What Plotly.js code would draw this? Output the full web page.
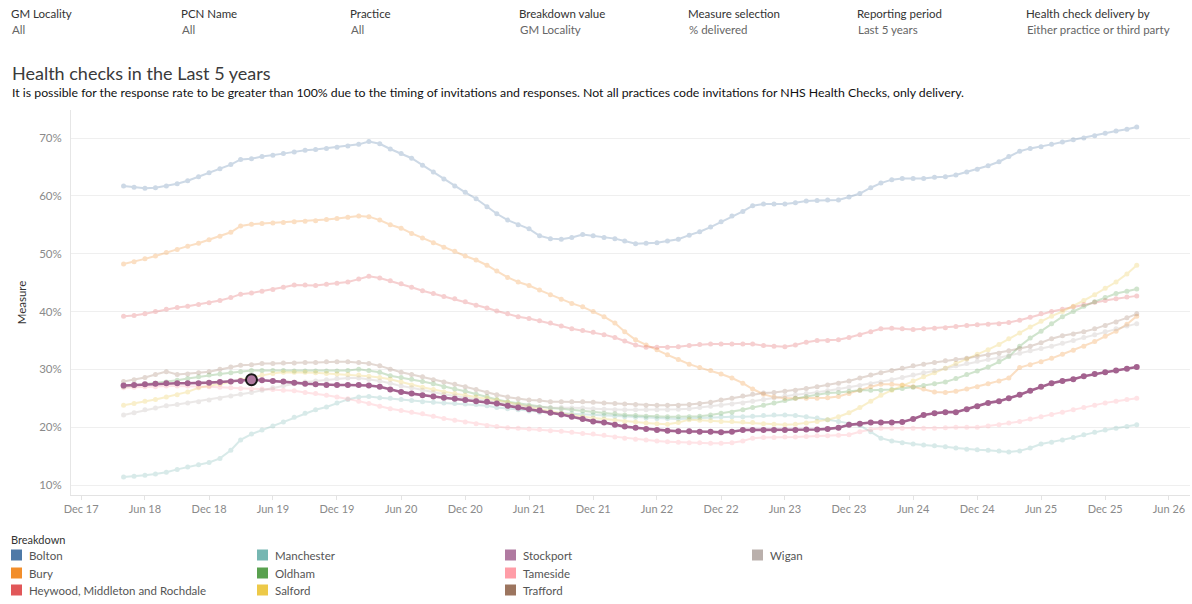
<!DOCTYPE html>
<html><head><meta charset="utf-8">
<script src="https://cdn.plot.ly/plotly-3.0.1.min.js"></script>
<style>html,body{margin:0;padding:0;background:#fff;}#chart{width:1192px;height:604px;}</style>
</head><body><div id="chart"></div>
<script>
// ---------------- DATA ----------------
const firstMonth = [2018, 4];   // Apr 2018, monthly points
const nPoints = 96;             // to Mar 2026
const localities = ['Bolton','Bury','Heywood, Middleton and Rochdale','Manchester','Oldham','Salford','Stockport','Tameside','Trafford','Wigan'];
const colours = ['#4e79a7','#f28e2b','#e15759','#76b7b2','#59a14f','#edc948','#b07aa1','#ff9da7','#9c755f','#bab0ac'];
const bolton = [61.7,61.5,61.3,61.4,61.7,62.1,62.6,63.3,64.0,64.7, 65.4,66.3,66.4,66.8,67.0,67.3,67.6,67.9,68.0,68.2, 68.4,68.6,68.9,69.4,69.0,68.1,67.3,66.5,65.3,64.1, 62.9,61.7,60.6,59.5,58.1,56.9,55.8,55.0,54.3,53.1, 52.6,52.5,52.8,53.3,53.1,52.8,52.6,52.2,51.7,51.8, 51.9,52.2,52.5,53.2,53.8,54.6,55.5,56.5,57.3,58.3, 58.6,58.6,58.6,58.8,59.1,59.2,59.3,59.3,59.8,60.4, 61.4,62.2,62.8,63.0,63.0,63.0,63.2,63.3,63.6,64.1, 64.6,65.2,65.9,66.8,67.7,68.2,68.5,68.9,69.3,69.7, 70.0,70.4,70.8,71.2,71.5,71.9];
const bury = [48.2,48.6,49.1,49.6,50.2,50.7,51.3,51.8,52.4,53.0, 53.7,54.8,55.1,55.2,55.3,55.4,55.5,55.6,55.7,55.9, 56.1,56.3,56.5,56.4,55.8,55.0,54.4,53.5,52.7,51.9, 51.1,50.4,49.6,48.9,48.0,47.0,45.9,45.1,44.5,43.7, 42.9,42.1,41.4,40.8,40.0,39.1,38.0,36.5,35.1,34.2, 33.4,32.5,31.7,30.9,30.3,29.8,29.2,28.5,27.6,26.6, 25.7,25.2,25.0,25.0,25.0,25.0,25.1,25.3,25.8,26.4, 27.0,27.4,27.4,27.3,27.0,26.6,26.1,26.0,26.2,26.6, 27.0,27.5,28.0,28.5,30.3,30.8,31.3,31.9,32.6,33.3, 34.0,34.8,35.7,36.6,37.8,39.2];
const hmr = [39.2,39.3,39.6,40.0,40.4,40.7,40.9,41.2,41.5,41.9, 42.4,43.0,43.2,43.5,43.8,44.2,44.6,44.6,44.5,44.7, 44.9,45.1,45.6,46.1,45.8,45.3,44.8,44.2,43.6,43.1, 42.6,42.2,41.7,41.1,40.6,40.1,39.6,39.1,38.8,38.4, 38.0,37.5,37.0,36.7,36.4,36.0,35.5,34.9,34.2,33.8, 33.8,33.8,33.9,34.1,34.3,34.4,34.4,34.4,34.4,34.4, 34.1,34.0,33.9,34.2,34.7,35.0,35.0,35.1,35.5,36.0, 36.5,37.0,37.1,37.0,36.9,37.0,37.1,37.2,37.4,37.6, 37.7,37.8,37.9,38.1,38.5,39.0,39.6,40.0,40.4,40.8, 41.2,41.6,41.9,42.2,42.5,42.7];
const manchester = [11.4,11.5,11.7,11.9,12.2,12.7,13.1,13.5,13.9,14.6, 16.0,17.8,18.8,19.5,20.2,20.9,21.7,22.4,23.0,23.5, 24.2,24.8,25.2,25.3,25.1,25.0,24.8,24.6,24.4,24.3, 24.2,24.1,24.0,23.9,23.7,23.4,23.2,23.0,22.8,22.6, 22.5,22.4,22.3,22.2,22.1,22.0,21.9,21.8,21.7,21.6, 21.5,21.5,21.4,21.5,21.6,21.7,21.8,21.8,21.8,21.9, 22.0,22.1,22.1,22.0,21.8,21.6,21.3,21.0,20.6,20.3, 19.2,18.1,17.6,17.3,17.1,16.9,16.8,16.6,16.4,16.2, 16.1,16.0,15.9,15.7,15.9,16.4,17.1,17.4,17.8,18.2, 18.7,19.1,19.5,19.8,20.1,20.4];
const oldham = [27.0,27.2,27.4,27.6,27.8,28.1,28.4,28.7,29.0,29.2, 29.4,29.6,29.8,29.8,29.8,29.8,29.7,29.7,29.7,29.7, 29.7,29.8,30.0,29.8,29.5,28.9,28.6,28.3,27.9,27.5, 27.0,26.6,26.2,25.7,25.3,24.8,24.4,24.1,23.8,23.5, 23.3,23.2,23.0,22.8,22.6,22.4,22.3,22.1,22.0,21.9, 21.9,21.8,21.8,21.8,21.9,22.1,22.4,22.6,23.0,23.4, 23.8,24.2,24.6,25.0,25.3,25.6,25.9,26.0,26.2,26.4, 26.4,26.4,26.5,26.7,26.9,27.2,27.5,27.8,28.4,29.1, 29.7,30.4,31.3,32.2,34.0,35.4,36.6,37.9,39.1,40.0, 40.9,41.7,42.4,43.1,43.5,43.9];
const salford = [23.8,24.1,24.5,24.8,25.2,25.6,26.1,26.8,27.1,27.4, 27.8,28.2,28.6,29.0,29.3,29.5,29.5,29.5,29.4,29.3, 29.2,29.1,29.0,28.8,28.6,28.3,27.8,27.3,26.9,26.5, 26.1,25.8,25.5,25.2,25.0,24.7,24.3,23.9,23.5,23.1, 22.7,22.4,22.1,21.8,21.6,21.4,21.2,21.0,20.9,20.7, 20.6,20.5,20.8,21.3,21.2,21.1,21.0,21.0,20.9,20.8, 20.6,20.5,20.4,20.5,20.7,21.0,21.3,21.8,22.5,23.4, 24.5,25.5,26.4,27.2,28.0,28.7,29.4,30.2,31.0,31.8, 32.6,33.4,34.3,35.3,36.3,37.3,38.3,39.2,40.0,40.9, 41.9,42.9,44.0,45.1,46.5,48.0];
const stockport = [27.2,27.3,27.4,27.5,27.6,27.6,27.6,27.6,27.7,27.8, 27.9,28.0,28.2,28.1,28.0,27.9,27.7,27.5,27.4,27.3, 27.3,27.3,27.3,27.2,27.0,26.5,26.1,25.8,25.5,25.3, 25.1,24.9,24.7,24.5,24.4,24.1,23.7,23.4,23.1,22.9, 22.5,22.2,21.8,21.4,21.0,20.8,20.4,20.1,19.9,19.7, 19.5,19.4,19.3,19.3,19.2,19.2,19.1,19.2,19.5,19.5, 19.5,19.5,19.5,19.5,19.6,19.6,19.7,19.9,20.4,20.6, 20.8,20.8,20.8,20.9,21.4,22.1,22.4,22.6,22.6,23.1, 23.6,24.2,24.5,25.0,25.6,26.3,27.0,27.6,28.0,28.3, 28.8,29.2,29.5,29.8,30.1,30.4];
const tameside = [26.8,26.9,27.0,27.0,27.1,27.1,27.1,27.0,27.0,26.9, 26.8,26.7,26.6,26.6,26.5,26.4,26.3,26.0,25.8,25.5, 25.2,24.9,24.5,24.1,23.6,23.2,22.9,22.6,22.3,21.9, 21.5,21.2,20.9,20.6,20.3,20.1,19.9,19.8,19.7,19.6, 19.4,19.3,19.1,18.9,18.8,18.6,18.3,18.1,17.9,17.8, 17.6,17.5,17.4,17.3,17.3,17.2,17.2,17.3,17.6,18.1, 18.2,18.2,18.3,18.3,18.4,18.5,18.5,18.6,18.7,19.2, 19.6,19.8,19.8,19.8,19.8,19.8,19.8,19.9,20.0,20.0, 20.0,20.2,20.4,20.7,21.0,21.4,21.8,22.2,22.6,23.0, 23.4,23.8,24.2,24.5,24.8,25.0];
const trafford = [27.9,28.2,28.6,29.1,29.6,29.1,29.2,29.4,29.6,30.0, 30.4,30.7,30.8,31.0,31.0,31.1,31.1,31.2,31.2,31.3, 31.3,31.3,31.2,31.0,30.6,30.0,29.5,29.1,28.7,28.2, 27.8,27.4,27.0,26.5,26.0,25.6,25.2,24.9,24.7,24.6, 24.4,24.4,24.4,24.4,24.3,24.2,24.1,24.0,23.9,23.8, 23.8,23.8,23.8,23.9,24.1,24.3,24.7,25.0,25.4,25.7, 25.9,26.0,26.2,26.4,26.7,27.0,27.3,27.6,28.0,28.5, 29.0,29.4,29.8,30.2,30.6,30.9,31.2,31.5,31.7,31.9, 32.2,32.5,32.8,33.2,33.6,34.0,34.6,35.3,35.8,36.1, 36.5,37.0,37.6,38.2,38.9,39.6];
const wigan = [22.1,22.5,23.0,23.3,23.7,23.9,24.2,24.4,24.7,25.0, 25.4,25.7,26.0,26.4,26.8,27.2,27.5,27.8,28.0,28.2, 28.4,28.5,28.5,28.3,28.0,27.6,27.1,26.8,26.4,26.0, 25.7,25.4,25.1,24.8,24.5,24.2,24.0,23.8,23.6,23.5, 23.4,23.4,23.3,23.3,23.2,23.1,23.0,23.0,23.0,23.0, 23.0,23.0,23.1,23.2,23.4,23.6,23.8,24.0,24.2,24.5, 24.8,25.1,25.4,25.6,25.8,26.0,26.3,26.6,26.9,27.2, 27.5,27.8,28.2,28.6,29.0,29.4,29.8,30.2,30.6,31.0, 31.4,31.7,32.0,32.4,32.8,33.2,33.6,34.0,34.5,35.0, 35.5,36.0,36.5,37.0,37.5,37.9];
const seriesValues = [bolton,bury,hmr,manchester,oldham,salford,stockport,tameside,trafford,wigan];
const highlighted = 'Stockport';
const highlightMonthIndex = 12;   // Apr 2019 point picked out
const yTickVals = [10,20,30,40,50,60,70];
const yTickText = ['10%','20%','30%','40%','50%','60%','70%'];
const filterLabels = ['GM Locality','PCN Name','Practice','Breakdown value','Measure selection','Reporting period','Health check delivery by'];
const filterValues = ['All','All','All','GM Locality','% delivered','Last 5 years','Either practice or third party'];
const titleText = 'Health checks in the Last 5 years';
const subtitleText = 'It is possible for the response rate to be greater than 100% due to the timing of invitations and responses. Not all practices code invitations for NHS Health Checks, only delivery.';

// --------------- BUILD ----------------
const dates = [];
for (let i = 0; i < nPoints; i++) {
  const m0 = firstMonth[1] - 1 + i;
  const y = firstMonth[0] + Math.floor(m0 / 12);
  const m = (m0 % 12) + 1;
  dates.push(y + '-' + String(m).padStart(2,'0') + '-01');
}
const FONT = 'Lato, "Noto Sans", sans-serif';
const W = 1192, H = 604, L = 71, R = 2, T = 110, B = 109;
const pw = W - L - R, ph = H - T - B;
const px = x => (x - L) / pw;
const py = y => (H - B - y) / ph;

const traces = [];
localities.forEach((name, k) => {
  if (name === highlighted) return;
  traces.push({
    type: 'scatter', mode: 'lines+markers', name: name, x: dates, y: seriesValues[k],
    line: {color: colours[k], width: 2}, marker: {color: colours[k], size: 5},
    opacity: 0.28, showlegend: false, hoverinfo: 'skip'
  });
});
const hk = localities.indexOf(highlighted);
traces.push({
  type: 'scatter', mode: 'lines+markers', name: highlighted, x: dates, y: seriesValues[hk],
  line: {color: '#a3628f', width: 2.6}, marker: {color: '#a3628f', size: 6},
  showlegend: false
});
traces.push({
  type: 'scatter', mode: 'markers', x: [dates[highlightMonthIndex]], y: [seriesValues[hk][highlightMonthIndex]],
  marker: {color: '#b07aa1', size: 11, line: {color: '#1a1a1a', width: 2}}, showlegend: false
});

const annotations = [];
const shapes = [];
const filterX = [9, 179, 348, 517, 686, 855, 1024];
filterLabels.forEach((t, i) => {
  annotations.push({text: t, x: px(filterX[i]), y: py(13), xref: 'paper', yref: 'paper', xanchor: 'left', yanchor: 'middle', showarrow: false, font: {family: FONT, size: 11.5, color: '#333'}});
  annotations.push({text: filterValues[i], x: px(filterX[i] + 1), y: py(29), xref: 'paper', yref: 'paper', xanchor: 'left', yanchor: 'middle', showarrow: false, font: {family: FONT, size: 11.5, color: '#666'}});
});
annotations.push({text: titleText, x: px(10), y: py(73), xref: 'paper', yref: 'paper', xanchor: 'left', yanchor: 'middle', showarrow: false, font: {family: FONT, size: 18, color: '#3a3a3a'}});
annotations.push({text: subtitleText, x: px(10), y: py(92), xref: 'paper', yref: 'paper', xanchor: 'left', yanchor: 'middle', showarrow: false, font: {family: FONT, size: 12.3, color: '#111'}});

// legend (column-major, 3 rows)
annotations.push({text: 'Breakdown', x: px(9), y: py(539), xref: 'paper', yref: 'paper', xanchor: 'left', yanchor: 'middle', showarrow: false, font: {family: FONT, size: 11, color: '#333'}});
const colX = [11, 257, 505, 752], rowY = [555, 573, 590];
localities.forEach((name, k) => {
  const c = Math.floor(k / 3), r = k % 3;
  const x0 = colX[c], yc = rowY[r];
  shapes.push({type: 'rect', xref: 'paper', yref: 'paper', x0: px(x0), x1: px(x0 + 11), y0: py(yc - 5.5), y1: py(yc + 5.5), fillcolor: colours[k], line: {width: 0}});
  annotations.push({text: name, x: px(x0 + 16), y: py(yc), xref: 'paper', yref: 'paper', xanchor: 'left', yanchor: 'middle', showarrow: false, font: {family: FONT, size: 11.5, color: '#555'}});
});

// y range from pixel calibration: 70% at y=138, 10% at y=485
const pxPerPct = (485 - 138) / 60;
const layout = {
  width: W, height: H, margin: {l: L, r: R, t: T, b: B},
  paper_bgcolor: '#fff', plot_bgcolor: '#fff', showlegend: false,
  font: {family: FONT},
  xaxis: {
    type: 'date', range: ['2017-11-02', '2026-07-31'],
    tick0: '2017-12-01', dtick: 'M6', tickformat: '%b %y',
    showgrid: false, zeroline: false, showline: true, linecolor: '#e3e3e3', linewidth: 1,
    ticks: 'outside', ticklen: 4, tickcolor: '#e3e3e3',
    tickfont: {family: FONT, size: 11, color: '#8a8a8a'}
  },
  yaxis: {
    range: [10 - (H - B - 485) / pxPerPct, 70 + (138 - T) / pxPerPct],
    tickmode: 'array', tickvals: yTickVals, ticktext: yTickText,
    showgrid: true, gridcolor: '#efefef', gridwidth: 1, zeroline: false,
    showline: true, linecolor: '#e6e6e6', linewidth: 1,
    ticks: 'outside', ticklen: 6, tickcolor: 'rgba(0,0,0,0)',
    tickfont: {family: FONT, size: 11.5, color: '#8a8a8a'},
    title: {text: 'Measure', font: {family: FONT, size: 11.5, color: '#333'}, standoff: 10}
  },
  annotations: annotations, shapes: shapes
};

Plotly.newPlot('chart', traces, layout, {displayModeBar: false, staticPlot: true});
</script></body></html>
